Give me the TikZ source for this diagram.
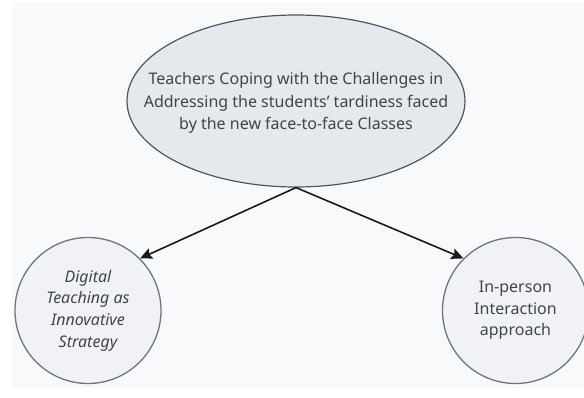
\documentclass[tikz,border=0pt]{standalone}
\usepackage{fontspec}
\setmainfont{Noto Sans}
\usetikzlibrary{arrows.meta,shapes.geometric}
\definecolor{bgc}{HTML}{F8F9FB}
\definecolor{ellfill}{HTML}{E5E8EC}
\definecolor{ellline}{HTML}{50565E}
\definecolor{circfill}{HTML}{F1F2F6}
\definecolor{circline}{HTML}{6E757E}
\definecolor{txt}{HTML}{40454B}
\tikzset{
  mainell/.style={ellipse, draw=ellline, fill=ellfill, line width=1.2pt, inner sep=0pt,
    minimum width=338pt, minimum height=172pt},
  subcirc/.style={circle, draw=circline, fill=circfill, line width=1.3pt, inner sep=0pt,
    minimum size=146pt, align=center, text=txt, font=\fontsize{16}{21.7}\selectfont},
  lbl/.style={align=center, text=txt, font=\fontsize{16}{22.5}\selectfont},
  arr/.style={line width=1.6pt, -{Stealth[length=12pt, width=11pt, inset=2pt]}, black!90}
}
\begin{document}
\begin{tikzpicture}[x=1pt,y=-1pt]
\useasboundingbox (0,0) rectangle (584,398);
\fill[bgc] (12,2) rectangle (584,388);
\node[mainell] (top) at (296,101) {};
\node[lbl] (toptext) at (296,103) {Teachers Coping with the Challenges in\\Addressing the students’ tardiness faced\\by the new face-to-face Classes};
\node[subcirc] (left) at (88,310.5) {\itshape Digital\\\itshape Teaching as\\\itshape Innovative\\\itshape Strategy};
\node[subcirc] (right) at (515.5,310.5) {In-person\\Interaction\\approach};
\draw[arr] (top.south) -- (left.45);
\draw[arr] (top.south) -- (right.135);
\end{tikzpicture}
\end{document}
